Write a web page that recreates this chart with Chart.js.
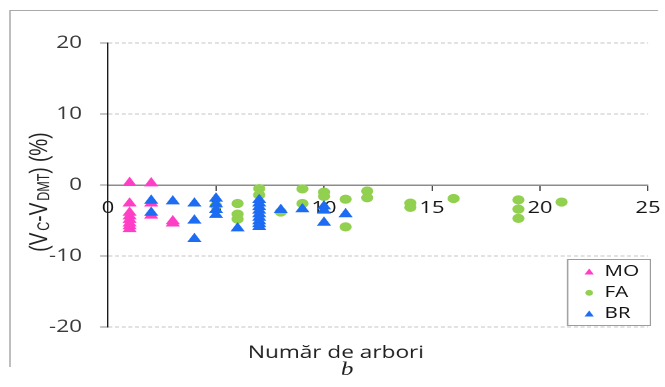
<!DOCTYPE html>
<html>
<head>
<meta charset="utf-8">
<script src="https://cdn.jsdelivr.net/npm/chart.js@4.4.1/dist/chart.umd.min.js"></script>
<style>
  html, body { margin: 0; padding: 0; background: #ffffff; overflow: hidden; }
  #plot { display: block; }
</style>
</head>
<body>
<!-- drawn on a 500px-wide canvas that is shown 665px wide (the figure is horizontally stretched) -->
<canvas id="plot" width="500" height="387" style="width:665px;height:387px"></canvas>
<script>
// Number of trees per plot (x) and volume difference (Vc - Vdmt) in % (y), per species
const treeCountsMO = [1, 1, 1, 1, 1, 1, 1, 1, 2, 2, 2, 3, 3];
const diffMO       = [0.3, -2.6, -3.9, -4.4, -4.9, -5.4, -5.8, -6.2, 0.25, -2.6, -4.3, -5.1, -5.4];

const treeCountsFA = [5, 6, 6, 6, 7, 7, 8, 9, 9, 10, 10, 11, 11, 12, 12, 14, 14, 16, 19, 19, 19, 21];
const diffFA       = [-2.9, -2.6, -4.1, -4.8, -0.5, -1.4, -3.8, -0.55, -2.6, -1.0, -1.6, -2.0, -5.9, -0.85, -1.8, -2.55, -3.15, -1.9, -2.1, -3.4, -4.7, -2.4];

const treeCountsBR = [2, 2, 3, 4, 4, 4, 5, 5, 5, 5, 6, 7, 7, 7, 7, 7, 7, 7, 7, 7, 8, 9, 10, 10, 10, 11];
const diffBR       = [-2.2, -3.9, -2.3, -2.6, -5.0, -7.6, -1.9, -2.7, -3.5, -4.2, -6.1, -2.1, -2.6, -3.1, -3.6, -4.1, -4.6, -5.1, -5.5, -5.9, -3.5, -3.4, -3.0, -3.6, -5.3, -4.1];

const seriesNames  = ['MO', 'FA', 'BR'];
const seriesColors = ['#FF3EC6', '#92D050', '#1D6CF2'];
const seriesStyles = ['triangle', 'circle', 'triangle'];

const xTickValues = [0, 5, 10, 15, 20, 25];
const yTickValues = [-20, -10, 0, 10, 20];

const xTitle = 'Număr de arbori';
const panelLetter = 'b';

const SANS = "'Open Sans', 'DejaVu Sans', sans-serif";

function pairs(xs, ys) {
  return xs.map((x, i) => ({ x: x, y: ys[i] }));
}

function makeDataset(i, xs, ys, order) {
  const isTri = seriesStyles[i] === 'triangle';
  return {
    label: seriesNames[i],
    data: pairs(xs, ys),
    pointStyle: seriesStyles[i],
    pointRadius: isTri ? 5.2 : 4.1,
    pointHoverRadius: isTri ? 5.2 : 4.1,
    backgroundColor: seriesColors[i],
    borderColor: seriesColors[i],
    pointBorderWidth: 1,
    order: order
  };
}

// frame, axis titles and the boxed legend
const decorations = {
  id: 'decorations',
  afterDraw(chart) {
    const ctx = chart.ctx;
    const yScale = chart.scales.y;
    ctx.save();

    // figure frame (left and top edges)
    ctx.strokeStyle = '#a9a9a9';
    ctx.lineWidth = 1;
    ctx.beginPath();
    ctx.moveTo(7.5, 367);
    ctx.lineTo(7.5, 10.5);
    ctx.lineTo(494.7, 10.5);
    ctx.stroke();

    // x axis title
    ctx.fillStyle = '#1f1f1f';
    ctx.font = '17px ' + SANS;
    ctx.textAlign = 'center';
    ctx.textBaseline = 'alphabetic';
    ctx.fillText(xTitle, 252.6, 358);

    // panel letter
    ctx.font = "italic 19px 'Liberation Serif', 'DejaVu Serif', serif";
    ctx.fillText(panelLetter, 261, 375);

    // y axis title with subscripts: (V_C - V_DMT) (%)
    const parts = [
      { t: '(V', size: 19, dy: 0, gap: 0 },
      { t: 'C', size: 12.5, dy: 1.5, gap: 2 },
      { t: '-V', size: 19, dy: 0, gap: 0 },
      { t: 'DMT', size: 12.5, dy: 1.5, gap: 2 },
      { t: ') (%)', size: 19, dy: 0, gap: 0 }
    ];
    const tfam = "'Liberation Sans', Arial, sans-serif";
    let total = 0;
    parts.forEach(p => {
      ctx.font = p.size + 'px ' + tfam;
      p.w = ctx.measureText(p.t).width;
      total += p.w + p.gap;
    });
    const cy = yScale.getPixelForValue(-1);
    ctx.translate(35.5, cy);
    ctx.rotate(-Math.PI / 2);
    ctx.fillStyle = '#222222';
    ctx.textAlign = 'left';
    let px = -total / 2;
    parts.forEach(p => {
      px += p.gap;
      ctx.font = p.size + 'px ' + tfam;
      ctx.fillText(p.t, px, p.dy);
      px += p.w;
    });
    const dpr = chart.currentDevicePixelRatio;
    ctx.setTransform(dpr, 0, 0, dpr, 0, 0);

    // legend box
    const lx = 426.3, ly = 259, lw = 63.2, lh = 67;
    ctx.fillStyle = '#ffffff';
    ctx.fillRect(lx, ly, lw, lh);
    ctx.strokeStyle = '#9c9c9c';
    ctx.lineWidth = 1;
    ctx.strokeRect(lx + 0.5, ly + 0.5, lw - 1, lh - 1);

    const rowY = [271, 292, 313];
    chart.data.datasets.forEach((ds, i) => {
      const isTri = ds.pointStyle === 'triangle';
      ctx.fillStyle = ds.backgroundColor;
      ctx.strokeStyle = ds.borderColor;
      Chart.helpers.drawPoint(ctx, {
        pointStyle: ds.pointStyle,
        rotation: 0,
        radius: isTri ? 4 : 2.9,
        borderWidth: 0
      }, 443, rowY[i] + (isTri ? 1.5 : 0.8));
      ctx.fillStyle = '#111111';
      ctx.font = '15.5px ' + SANS;
      ctx.textAlign = 'left';
      ctx.textBaseline = 'middle';
      ctx.fillText(ds.label, 454.5, rowY[i] + 0.5);
    });

    ctx.restore();
  }
};

new Chart(document.getElementById('plot'), {
  type: 'scatter',
  data: {
    datasets: [
      makeDataset(0, treeCountsMO, diffMO, 3),
      makeDataset(1, treeCountsFA, diffFA, 2),
      makeDataset(2, treeCountsBR, diffBR, 1)
    ]
  },
  options: {
    responsive: false,
    devicePixelRatio: 2,
    animation: false,
    layout: { padding: { left: 0, top: 43, right: 12.8, bottom: 60 } },
    plugins: {
      legend: { display: false },
      tooltip: { enabled: false }
    },
    scales: {
      x: {
        type: 'linear',
        position: { y: 0 },
        min: 0,
        max: 25,
        z: 1,
        afterBuildTicks: s => { s.ticks = xTickValues.map(v => ({ value: v })); },
        grid: {
          drawOnChartArea: false,
          drawTicks: true,
          tickLength: 5,
          tickColor: '#4a4a4a',
          tickWidth: 1
        },
        border: { display: true, color: '#8c8c8c', width: 1.5 },
        ticks: {
          color: '#141414',
          padding: 0,
          font: { family: SANS, size: 16.5, lineHeight: 2.2 },
          maxRotation: 0
        },
        title: { display: false }
      },
      y: {
        type: 'linear',
        position: 'left',
        min: -20,
        max: 20,
        afterBuildTicks: s => { s.ticks = yTickValues.map(v => ({ value: v })); },
        afterFit: s => { s.width = 81.2; },
        grid: {
          color: c => (c.tick && c.tick.value === 0) ? 'rgba(0,0,0,0)' : '#c4c4c4',
          lineWidth: 1,
          drawTicks: true,
          tickLength: 6,
          tickColor: '#8c8c8c'
        },
        border: { display: true, color: '#1a1a1a', width: 1, dash: [3, 2] },
        ticks: {
          color: '#3a3a3a',
          padding: 13.5,
          font: { family: SANS, size: 17 }
        },
        title: { display: false }
      }
    }
  },
  plugins: [decorations]
});
</script>
</body>
</html>
